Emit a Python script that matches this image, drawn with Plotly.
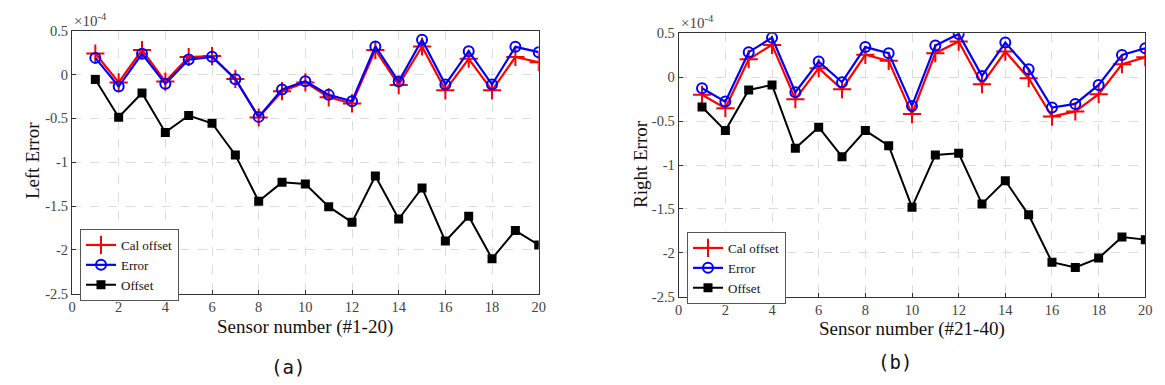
import plotly.graph_objects as go

sensors = list(range(1, 21))

left_cal = [0.24, -0.09, 0.28, -0.08, 0.20, 0.21, -0.05, -0.49, -0.19, -0.09,
            -0.26, -0.33, 0.28, -0.12, 0.32, -0.18, 0.18, -0.18, 0.20, 0.14]
left_err = [0.19, -0.137, 0.236, -0.106, 0.171, 0.202, -0.054, -0.483, -0.17, -0.076,
            -0.232, -0.305, 0.32, -0.08, 0.396, -0.114, 0.266, -0.114, 0.316, 0.255]
left_off = [-0.057, -0.487, -0.21, -0.66, -0.468, -0.556, -0.917, -1.446, -1.23, -1.248,
            -1.507, -1.686, -1.157, -1.648, -1.294, -1.90, -1.617, -2.10, -1.78, -1.944]

right_cal = [-0.20, -0.353, 0.205, 0.368, -0.25, 0.103, -0.137, 0.255, 0.186, -0.42,
             0.274, 0.406, -0.08, 0.292, -0.011, -0.449, -0.39, -0.194, 0.148, 0.228]
right_err = [-0.125, -0.278, 0.285, 0.45, -0.171, 0.178, -0.057, 0.343, 0.274, -0.327,
             0.36, 0.493, 0.015, 0.394, 0.091, -0.346, -0.304, -0.088, 0.254, 0.33]
right_off = [-0.34, -0.608, -0.145, -0.088, -0.81, -0.57, -0.905, -0.608, -0.78, -1.48,
             -0.885, -0.866, -1.443, -1.18, -1.568, -2.107, -2.168, -2.06, -1.82, -1.85]

x_ticks = list(range(0, 21, 2))
y_ticks = [-2.5, -2, -1.5, -1, -0.5, 0, 0.5]
y_ticktext = ["-2.5", "-2", "-1.5", "-1", "-0.5", "0", "0.5"]
series_names = ["Cal offset", "Error", "Offset"]

# page body has an 8px default margin; size the figure to fill the 1165x385 window
OFF = 8
W, H = 1165 - 2 * OFF, 385 - 2 * OFF
SERIF = "Liberation Serif"


def px(x):
    return (x - OFF) / W


def py(y):
    return 1 - (y - OFF) / H


fig = go.Figure()


def add_panel(cal, err, off, xa, ya, legend):
    fig.add_trace(go.Scatter(x=sensors, y=cal, name=series_names[0], mode="lines+markers",
                             line=dict(color="#ff0000", width=2.2),
                             marker=dict(symbol="cross-thin-open", size=13,
                                         line=dict(color="#ff0000", width=2)),
                             xaxis=xa, yaxis=ya, legend=legend))
    fig.add_trace(go.Scatter(x=sensors, y=err, name=series_names[1], mode="lines+markers",
                             line=dict(color="#0000ff", width=2.2),
                             marker=dict(symbol="circle-open", size=10,
                                         line=dict(color="#0000ff", width=2)),
                             xaxis=xa, yaxis=ya, legend=legend))
    fig.add_trace(go.Scatter(x=sensors, y=off, name=series_names[2], mode="lines+markers",
                             line=dict(color="#000000", width=2),
                             marker=dict(symbol="square", size=9, color="#000000"),
                             xaxis=xa, yaxis=ya, legend=legend))


add_panel(left_cal, left_err, left_off, "x", "y", "legend")
add_panel(right_cal, right_err, right_off, "x2", "y2", "legend2")

axis_common = dict(showline=True, mirror=True, linecolor="#333333", linewidth=1,
                   ticks="inside", ticklen=4, tickcolor="#333333", automargin=False,
                   showgrid=True, gridcolor="#dcdcdc", griddash="dash", gridwidth=1,
                   zeroline=False, tickfont=dict(family=SERIF, size=14.5, color="#444444"))

title_font = dict(family=SERIF, size=19, color="#111111")
cap_font = dict(family="DejaVu Sans Mono", size=19, color="#111111")

lx = [px(72), px(538.7)]
rx = [px(678.7), px(1145.3)]
ly = [py(293.7), py(30.7)]
ry = [py(296.7), py(33.3)]


def ann(text, x, y, font, angle=0):
    return dict(text=text, x=px(x), y=py(y), xref="paper", yref="paper",
                xanchor="center", yanchor="middle", showarrow=False,
                textangle=angle, font=font)


fig.update_layout(
    width=W, height=H,
    margin=dict(l=0, r=0, t=0, b=0),
    paper_bgcolor="white", plot_bgcolor="white",
    xaxis=dict(domain=lx, range=[0, 20], tickvals=x_ticks, anchor="y", **axis_common),
    yaxis=dict(domain=ly, range=[-2.5, 0.5], tickvals=y_ticks, ticktext=y_ticktext,
               anchor="x", **axis_common),
    xaxis2=dict(domain=rx, range=[0, 20], tickvals=x_ticks, anchor="y2", **axis_common),
    yaxis2=dict(domain=ry, range=[-2.5, 0.5], tickvals=y_ticks, ticktext=y_ticktext,
                anchor="x2", **axis_common),
    legend=dict(x=px(80), y=py(229), xanchor="left", yanchor="top",
                bgcolor="white", bordercolor="#555555", borderwidth=1,
                font=dict(family=SERIF, size=13, color="#111111"),
                tracegroupgap=0, itemwidth=30),
    legend2=dict(x=px(687), y=py(232), xanchor="left", yanchor="top",
                 bgcolor="white", bordercolor="#555555", borderwidth=1,
                 font=dict(family=SERIF, size=13, color="#111111"),
                 tracegroupgap=0, itemwidth=30),
    annotations=[
        ann("Sensor number (#1-20)", 305, 327, title_font),
        ann("Sensor number (#21-40)", 912, 329, title_font),
        ann("Left Error", 33, 161, title_font, -90),
        ann("Right Error", 640, 164, title_font, -90),
        dict(text="×10<sup>-4</sup>", x=px(72), y=py(31), xref="paper", yref="paper",
             xanchor="left", yanchor="bottom", showarrow=False,
             font=dict(family=SERIF, size=15, color="#444444")),
        dict(text="×10<sup>-4</sup>", x=px(679), y=py(33.5), xref="paper", yref="paper",
             xanchor="left", yanchor="bottom", showarrow=False,
             font=dict(family=SERIF, size=15, color="#444444")),
        ann("(a)", 287.5, 367, cap_font),
        ann("(b)", 895, 362, cap_font),
    ],
)

fig.write_html("out.html")
